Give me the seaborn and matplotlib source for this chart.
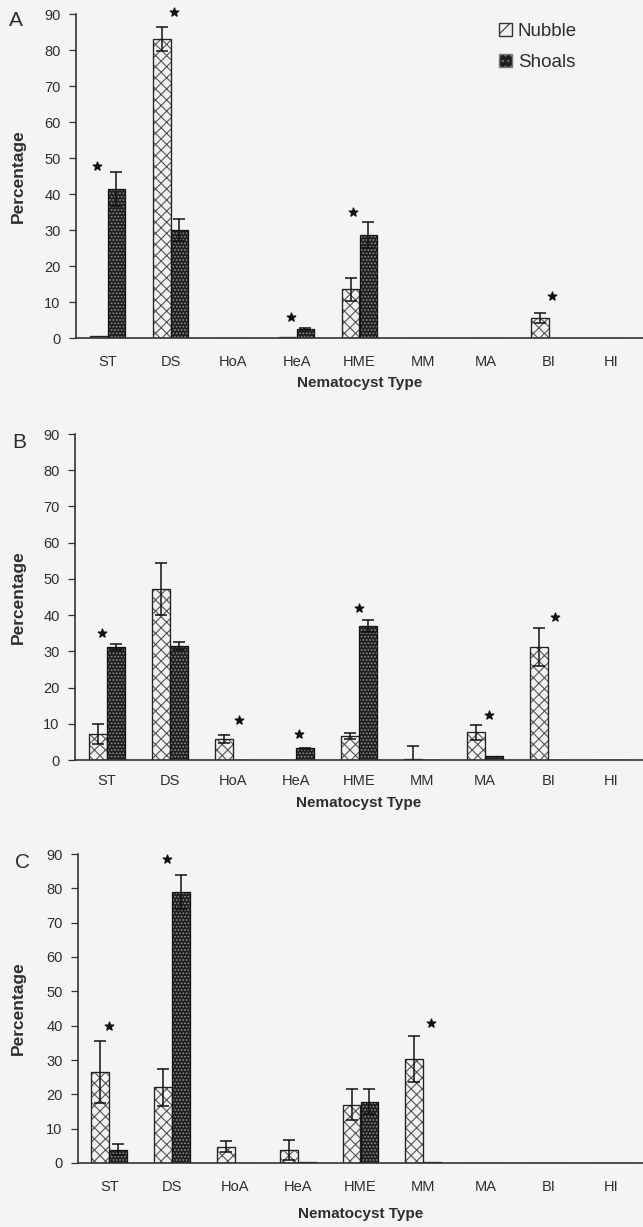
import numpy as np
import pandas as pd
import matplotlib
matplotlib.use('Agg')
import matplotlib.pyplot as plt
from matplotlib.patches import Patch
import seaborn as sns

# Nematocyst categories and sites
types = ['ST', 'DS', 'HoA', 'HeA', 'HME', 'MM', 'MA', 'BI', 'HI']
sites = ['Nubble', 'Shoals']

# Panel A
a_nubble     = [0.6, 83.1, 0, 0.3, 13.5, 0, 0, 5.5, 0]
a_nubble_err = [0, 3.4, 0, 0, 3.2, 0, 0, 1.4, 0]
a_shoals     = [41.4, 30.0, 0, 2.6, 28.6, 0, 0, 0, 0]
a_shoals_err = [4.7, 3.1, 0, 0.3, 3.6, 0, 0, 0, 0]
a_star_types = ['ST', 'DS', 'HeA', 'HME', 'BI']
a_star_y     = [47.8, 90.5, 5.8, 35.0, 11.7]

# Panel B
b_nubble     = [7.2, 47.2, 5.8, 0, 6.6, 0.3, 7.7, 31.2, 0]
b_nubble_err = [2.8, 7.3, 1.1, 0, 0.9, 3.7, 2.1, 5.2, 0]
b_shoals     = [31.2, 31.5, 0, 3.2, 37.0, 0, 1.0, 0, 0]
b_shoals_err = [0.8, 1.0, 0, 0.2, 1.6, 0, 0, 0, 0]
b_star_types = ['ST', 'HoA', 'HeA', 'HME', 'MA', 'BI']
b_star_y     = [35.0, 11.0, 7.2, 42.0, 12.4, 39.5]

# Panel C
c_nubble     = [26.4, 22.0, 4.7, 3.7, 17.0, 30.3, 0, 0, 0]
c_nubble_err = [9.0, 5.4, 1.6, 2.9, 4.6, 6.7, 0, 0, 0]
c_shoals     = [3.9, 79.0, 0, 0.4, 17.9, 0.2, 0, 0, 0]
c_shoals_err = [1.7, 5.0, 0, 0, 3.7, 0, 0, 0, 0]
c_star_types = ['ST', 'DS', 'MM']
c_star_y     = [40.0, 88.5, 40.8]

panels = [
    ('A', a_nubble, a_nubble_err, a_shoals, a_shoals_err, a_star_types, a_star_y),
    ('B', b_nubble, b_nubble_err, b_shoals, b_shoals_err, b_star_types, b_star_y),
    ('C', c_nubble, c_nubble_err, c_shoals, c_shoals_err, c_star_types, c_star_y),
]

# small horizontal nudges of the asterisks (category units)
star_dx = {
    'A': [-0.17, 0.05, -0.08, -0.10, 0.06],
    'B': [-0.08, 0.10, 0.05, 0.0, 0.06, 0.10],
    'C': [0.0, -0.08, 0.13],
}

bg = '#f4f4f2'
sns.set_style('white')
plt.rcParams['font.family'] = ['Liberation Sans', 'DejaVu Sans']
plt.rcParams['hatch.linewidth'] = 0.8

W, H = 643, 1227
fig = plt.figure(figsize=(W / 100, H / 100), dpi=100, facecolor=bg)

# axes boxes in pixels: (left, top, right, bottom)
boxes = [(76, 14, 643, 338), (75, 434, 643, 760), (78, 854, 643, 1163)]
tick_pads = [12, 10, 12.5]
xlabel_pads = [5, 6, 9]
letter_pos = [(16, 21), (19, 442), (22, 863)]

nub_col, sho_col = '#f1f1ef', '#1f1f1f'
nub_hatch, sho_hatch = 'xxx', '.....'
nub_edge, sho_edge = '#555555', '#8c8c8c'
txt = '#2e2e2e'

for i, (name, nub, nub_e, sho, sho_e, st_types, st_y) in enumerate(panels):
    l, t, r, b = boxes[i]
    ax = fig.add_axes([l / W, 1 - b / H, (r - l) / W, (b - t) / H])
    ax.set_facecolor(bg)

    df = pd.DataFrame({
        'type': types * 2,
        'site': ['Nubble'] * len(types) + ['Shoals'] * len(types),
        'pct': nub + sho,
    })
    sns.barplot(data=df, x='type', y='pct', hue='site', order=types,
                hue_order=sites, palette={'Nubble': nub_col, 'Shoals': sho_col},
                width=0.57, errorbar=None, legend=False, ax=ax, linewidth=0.8)
    fill_conts = list(ax.containers)

    for cont, hatch, ec, vals, errs in zip(fill_conts, [nub_hatch, sho_hatch],
                                           [nub_edge, sho_edge], [nub, sho], [nub_e, sho_e]):
        xs = []
        for p in cont.patches:
            p.set_hatch(hatch)
            p.set_edgecolor(ec)
            xs.append(p.get_x() + p.get_width() / 2)
        xs = np.array(xs)
        vals = np.array(vals)
        errs = np.array(errs)
        m = errs > 0
        ax.errorbar(xs[m], vals[m], yerr=errs[m], fmt='none', ecolor='#111111',
                    elinewidth=1.1, capsize=4.5, capthick=1.1, zorder=5)

    # dark outlines over the hatched bars
    sns.barplot(data=df, x='type', y='pct', hue='site', order=types,
                hue_order=sites, palette={'Nubble': '#222222', 'Shoals': '#111111'},
                width=0.57, errorbar=None, legend=False, ax=ax, fill=False,
                linewidth=0.9)

    # significance asterisks
    sx = [types.index(s) + d for s, d in zip(st_types, star_dx[name])]
    ax.scatter(sx, st_y, marker='*', s=40, color='#111111', zorder=6, clip_on=False)

    ax.set_ylim(0, 90)
    ax.set_xlim(-0.5, 8.5)
    ax.set_yticks(np.arange(0, 91, 10))
    ax.set_xticks(range(len(types)))
    ax.set_xticklabels(types)
    ax.set_xticks(np.arange(-0.5, 9, 1), minor=True)
    ax.tick_params(axis='x', which='major', length=0, pad=tick_pads[i],
                   labelsize=10.5, labelcolor=txt)
    ax.tick_params(axis='x', which='minor', length=5, width=0.9,
                   direction='inout', color='#333333')
    ax.tick_params(axis='y', length=5, width=0.9, direction='out', pad=6,
                   labelsize=10.5, labelcolor=txt, color='#333333', left=True)

    for side in ['top', 'right']:
        ax.spines[side].set_visible(False)
    for side in ['left', 'bottom']:
        ax.spines[side].set_color('#333333')
        ax.spines[side].set_linewidth(1.2)

    ax.set_xlabel('Nematocyst Type', fontsize=11, fontweight='bold',
                  color=txt, labelpad=xlabel_pads[i])
    ax.set_ylabel('Percentage', fontsize=12.5, fontweight='bold', color=txt)
    ax.yaxis.set_label_coords((26 - l) / (r - l), 0.5)

    lx, ly = letter_pos[i]
    fig.text(lx / W, 1 - ly / H, name, fontsize=15, color=txt,
             ha='center', va='center')

    if name == 'A':
        handles = [Patch(facecolor=nub_col, edgecolor='#333333', hatch='//', label='Nubble'),
                   Patch(facecolor=sho_col, edgecolor='#777777', hatch='...', label='Shoals')]
        ax.legend(handles=handles, loc='upper left', frameon=False,
                  bbox_to_anchor=(499 / W, 1 - 23 / H), bbox_transform=fig.transFigure,
                  fontsize=13.5, handlelength=0.7, handleheight=0.7, handletextpad=0.3,
                  labelspacing=0.75, borderaxespad=0, borderpad=0, labelcolor=txt)

fig.savefig('out.png', dpi=100, facecolor=bg)
